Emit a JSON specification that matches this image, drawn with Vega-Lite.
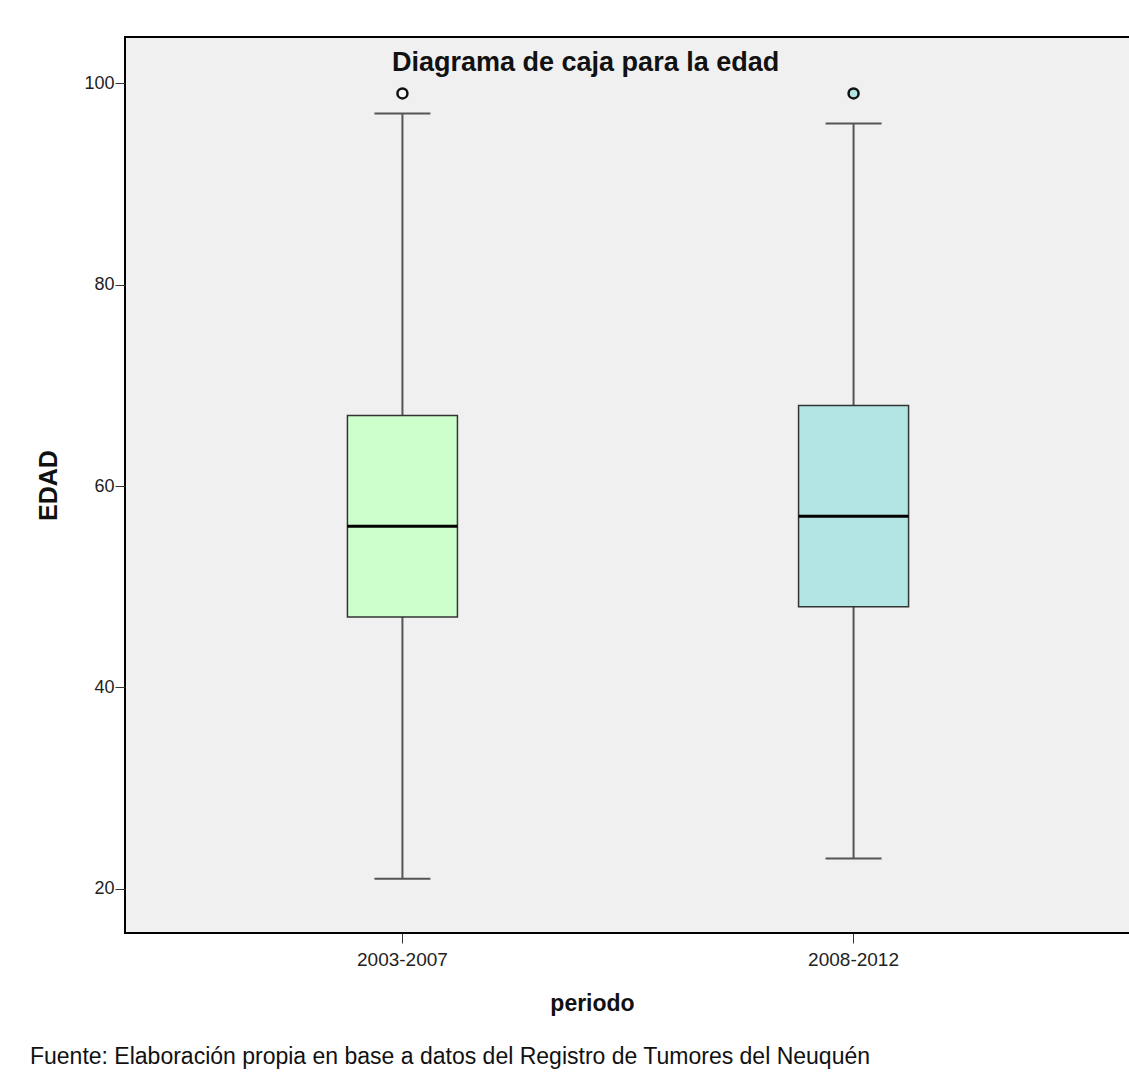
{
  "$schema": "https://vega.github.io/schema/vega-lite/v6.json",
  "background": "white",
  "padding": {"left": 29, "top": 36, "right": 0, "bottom": 5},
  "config": {
    "font": "Liberation Sans",
    "view": {"fill": "#f0f0f0", "stroke": "black", "strokeWidth": 2},
    "concat": {"spacing": 0}
  },
  "title": {
    "text": "Fuente: Elaboración propia en base a datos del Registro de Tumores del Neuquén",
    "orient": "bottom", "anchor": "start", "frame": "bounds",
    "fontSize": 23, "fontWeight": "normal", "color": "#111", "offset": 30, "dx": -6
  },
  "datasets": {
    "stats": [
      {"periodo": "2003-2007", "lower": 21, "q1": 47, "median": 56, "q3": 67, "upper": 97},
      {"periodo": "2008-2012", "lower": 23, "q1": 48, "median": 57, "q3": 68, "upper": 96}
    ],
    "outliers": [
      {"periodo": "2003-2007", "edad": 99},
      {"periodo": "2008-2012", "edad": 99}
    ]
  },
  "vconcat": [
    {
      "width": 1006,
      "height": 896,
      "title": {
        "text": "Diagrama de caja para la edad",
        "anchor": "start", "frame": "group", "dx": 267, "dy": 67,
        "fontSize": 27, "fontWeight": "bold", "color": "#111", "offset": 0, "baseline": "bottom"
      },
      "resolve": {"scale": {"fill": "independent"}},
      "layer": [
        {
          "data": {"name": "stats"},
          "mark": {"type": "rule", "color": "#555", "strokeWidth": 2},
          "encoding": {
            "x": {"field": "periodo", "type": "nominal",
              "scale": {"paddingInner": 0.5, "paddingOuter": 0.365},
              "axis": {"title": "periodo", "titleFontSize": 23, "titleFontWeight": "bold", "titleColor": "#111",
                "titleX": 467,
                "labelFontSize": 19, "labelColor": "#222", "labelAngle": 0, "tickSize": 10, "tickColor": "#333",
                "domain": false, "labelPadding": 7, "titlePadding": 23}},
            "y": {"field": "lower", "type": "quantitative",
              "scale": {"domain": [15.6, 104.6], "nice": false, "zero": false},
              "axis": {"title": "EDAD", "titleFontSize": 25, "titleFontWeight": "bold", "titleColor": "#111",
                "values": [20, 40, 60, 80, 100], "grid": false, "labelFontSize": 18, "labelColor": "#222",
                "tickSize": 10, "tickColor": "#333", "domain": false, "labelPadding": 1, "titlePadding": 22}},
            "y2": {"field": "upper"}
          }
        },
        {
          "data": {"name": "stats"},
          "mark": {"type": "tick", "color": "#555", "size": 56, "thickness": 2, "opacity": 1},
          "encoding": {
            "x": {"field": "periodo", "type": "nominal"},
            "y": {"field": "lower", "type": "quantitative"}
          }
        },
        {
          "data": {"name": "stats"},
          "mark": {"type": "tick", "color": "#555", "size": 56, "thickness": 2, "opacity": 1},
          "encoding": {
            "x": {"field": "periodo", "type": "nominal"},
            "y": {"field": "upper", "type": "quantitative"}
          }
        },
        {
          "data": {"name": "stats"},
          "mark": {"type": "bar", "width": 110, "stroke": "#333", "strokeWidth": 1.5, "opacity": 1},
          "encoding": {
            "x": {"field": "periodo", "type": "nominal"},
            "y": {"field": "q1", "type": "quantitative"},
            "y2": {"field": "q3"},
            "fill": {"field": "periodo", "type": "nominal",
              "scale": {"domain": ["2003-2007", "2008-2012"], "range": ["#ccffcc", "#b4e5e5"]}, "legend": null}
          }
        },
        {
          "data": {"name": "stats"},
          "mark": {"type": "tick", "color": "#000", "size": 110, "thickness": 3, "opacity": 1},
          "encoding": {
            "x": {"field": "periodo", "type": "nominal"},
            "y": {"field": "median", "type": "quantitative"}
          }
        },
        {
          "data": {"name": "outliers"},
          "mark": {"type": "point", "shape": "circle", "size": 100, "filled": false, "stroke": "#111", "strokeWidth": 2.5, "opacity": 1, "fillOpacity": 1},
          "encoding": {
            "x": {"field": "periodo", "type": "nominal"},
            "y": {"field": "edad", "type": "quantitative"},
            "fill": {"field": "periodo", "type": "nominal",
              "scale": {"domain": ["2003-2007", "2008-2012"], "range": ["#f7f7f7", "#b4e5e5"]}, "legend": null}
          }
        }
      ]
    }
  ]
}
